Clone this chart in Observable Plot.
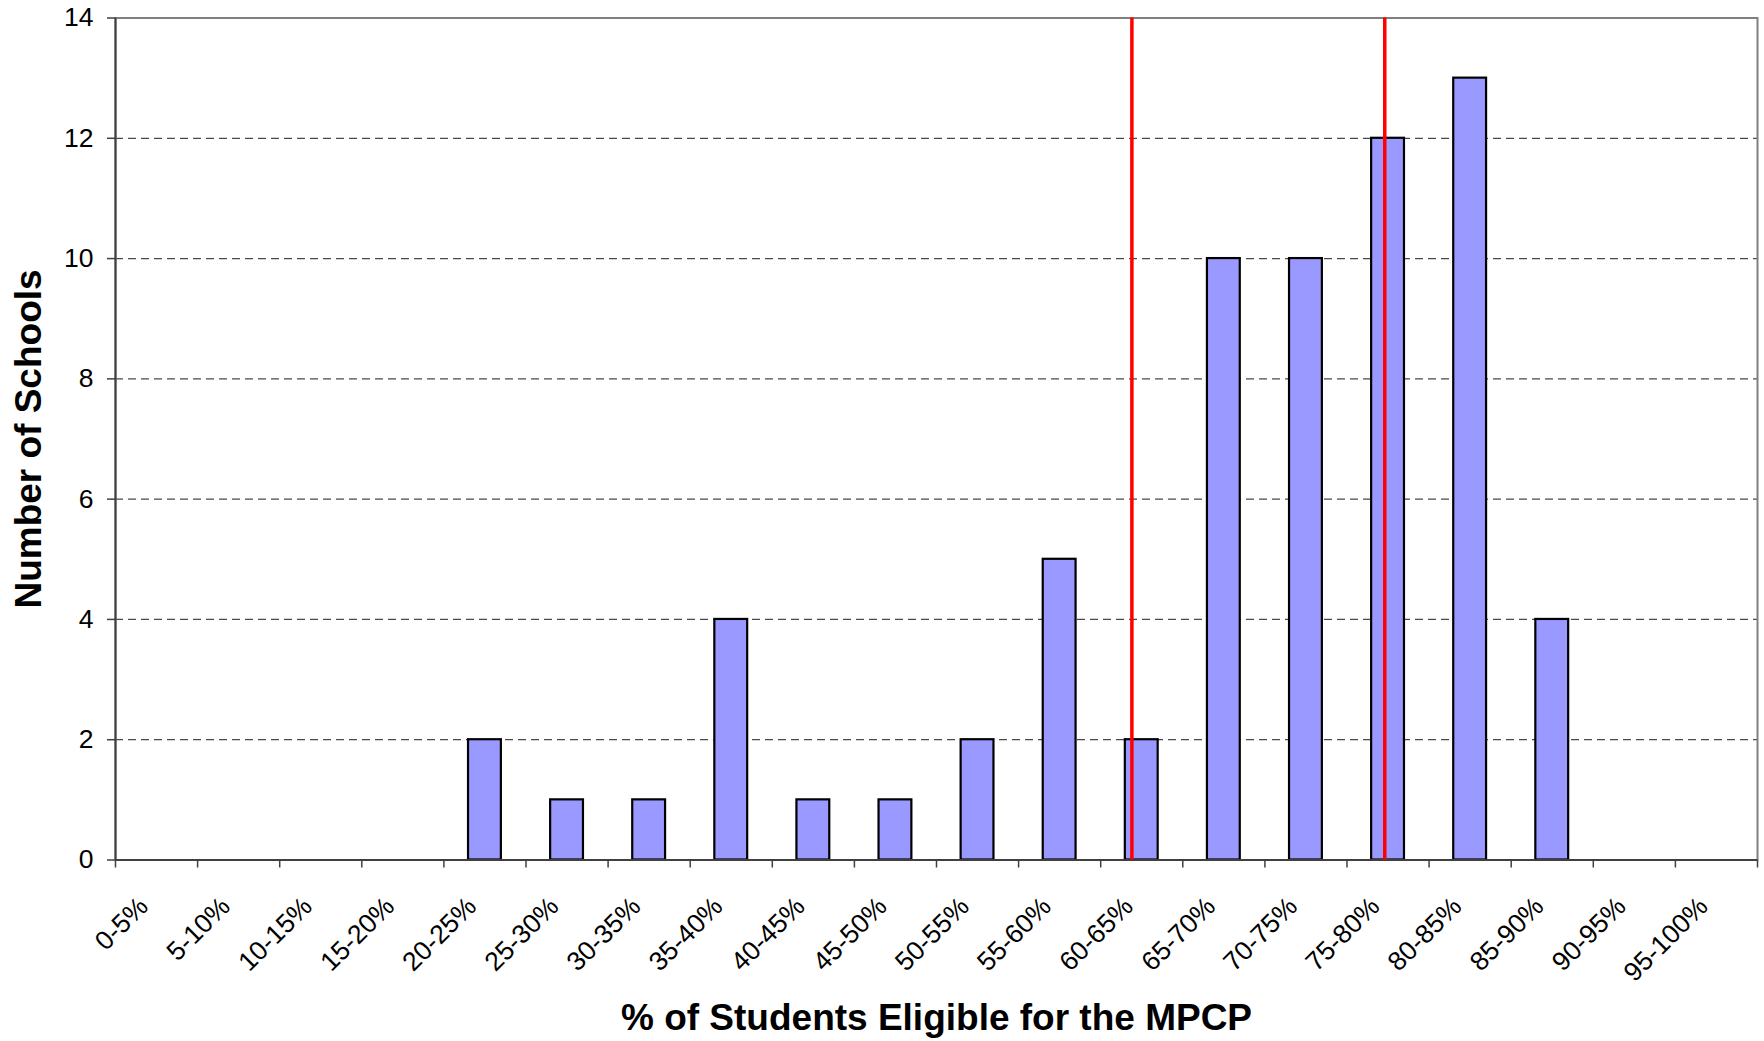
<!DOCTYPE html>
<html>
<head>
<meta charset="utf-8">
<script src="https://cdn.jsdelivr.net/npm/d3@7"></script>
<script src="https://cdn.jsdelivr.net/npm/@observablehq/plot@0.6"></script>
<style>
  html, body { margin: 0; padding: 0; background: #fff; }
  svg { display: block; }
</style>
</head>
<body>
<div id="chart"></div>
<script>
// ---- Data ----
const categories = ["0-5%", "5-10%", "10-15%", "15-20%", "20-25%", "25-30%", "30-35%", "35-40%", "40-45%", "45-50%",
                    "50-55%", "55-60%", "60-65%", "65-70%", "70-75%", "75-80%", "80-85%", "85-90%", "90-95%", "95-100%"];
const schoolCounts = [0, 0, 0, 0, 2, 1, 1, 4, 1, 1, 2, 5, 2, 10, 10, 12, 13, 4, 0, 0];
const referenceLines = [61.9, 77.3];
const yTicks = [0, 2, 4, 6, 8, 10, 12, 14];
const gridTicks = [2, 4, 6, 8, 10, 12];
const xTitle = "% of Students Eligible for the MPCP";
const yTitle = "Number of Schools";

// ---- Build bins from the category labels ----
const bins = categories.map((c, i) => {
  const [lo, hi] = c.replace("%", "").split("-").map(Number);
  return {category: c, lo, hi, count: schoolCounts[i]};
});
const xTickValues = bins.map(b => b.lo).concat([bins[bins.length - 1].hi]);
const barFraction = 0.4; // bar width as share of a bin

const font = "'Liberation Sans', Arial, Helvetica, sans-serif";

const chart = Plot.plot({
  width: 1764,
  height: 1041,
  marginTop: 17.5,
  marginRight: 7,
  marginBottom: 181.5,
  marginLeft: 115,
  style: {fontFamily: font, background: "#fff", color: "#000", overflow: "visible"},
  x: {domain: [0, 100], axis: null},
  y: {domain: [0, 14], axis: null},
  marks: [
    Plot.gridY({ticks: gridTicks, stroke: "#4a4a4a", strokeOpacity: 1, strokeWidth: 1.3, strokeDasharray: "8,5"}),
    Plot.rectY(bins.filter(d => d.count > 0), {
      x1: d => d.lo + (1 - barFraction) / 2 * (d.hi - d.lo),
      x2: d => d.hi - (1 - barFraction) / 2 * (d.hi - d.lo),
      y1: 0,
      y2: "count",
      fill: "#9999FF",
      stroke: "#000",
      strokeWidth: 2.2
    }),
    Plot.frame({stroke: "#808080", strokeWidth: 2}),
    Plot.ruleX([0], {stroke: "#404040", strokeWidth: 2}),
    Plot.ruleY([0], {stroke: "#404040", strokeWidth: 2}),
    Plot.ruleX(referenceLines, {stroke: "#FF0000", strokeWidth: 3.5}),
    Plot.axisY({ticks: yTicks, anchor: "left", tickSize: 8, tickPadding: 14, fontSize: 26.5,
                stroke: "#404040", strokeWidth: 1.5, label: null, fill: "#000"}),
    Plot.axisX({ticks: xTickValues, anchor: "bottom", tickSize: 8, tickFormat: () => "",
                stroke: "#404040", strokeWidth: 1.5, label: null}),
    Plot.text(bins, {
      x: d => (d.lo + d.hi) / 2,
      frameAnchor: "bottom",
      text: "category",
      dx: -13,
      dy: 42,
      rotate: -45,
      textAnchor: "end",
      lineAnchor: "middle",
      fontSize: 26.5,
      fill: "#000"
    }),
    Plot.text([xTitle], {
      text: d => d,
      frameAnchor: "bottom",
      dy: 158,
      lineAnchor: "middle",
      fontSize: 37,
      fontWeight: "bold",
      fill: "#000"
    }),
    Plot.text([yTitle], {
      text: d => d,
      frameAnchor: "left",
      dx: -86,
      rotate: -90,
      textAnchor: "middle",
      lineAnchor: "middle",
      fontSize: 37,
      fontWeight: "bold",
      fill: "#000"
    })
  ]
});

document.getElementById("chart").append(chart);
</script>
</body>
</html>
